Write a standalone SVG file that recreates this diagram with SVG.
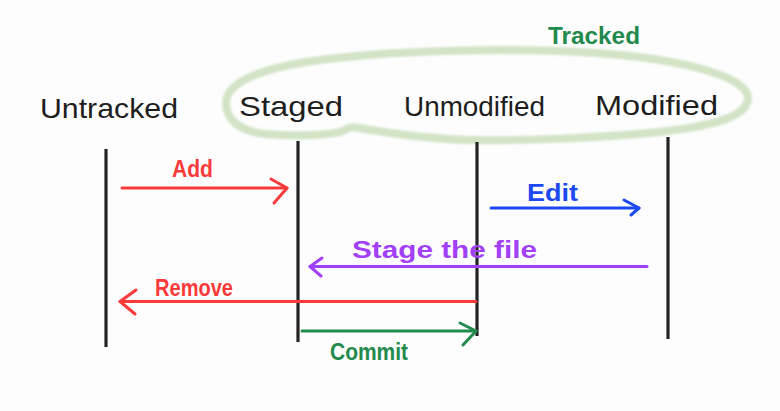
<svg xmlns="http://www.w3.org/2000/svg" width="780" height="411" viewBox="0 0 780 411">
  <defs>
    <filter id="soft" x="-5%" y="-20%" width="110%" height="140%">
      <feGaussianBlur stdDeviation="1.1"/>
    </filter>
    <style>
      .bg { fill: #fdfdfd; }
      .life { stroke: #242424; stroke-width: 3.2; fill: none; stroke-linecap: butt; }
      .lbl { font-family: "Liberation Sans", "DejaVu Sans", sans-serif; font-size: 28px; fill: #1e1e1e; }
      .alb { font-family: "Liberation Sans", "DejaVu Sans", sans-serif; font-size: 23px; font-weight: bold; }
      .arr { fill: none; stroke-width: 3; stroke-linecap: round; stroke-linejoin: round; }
      .red { stroke: #fa3a3a; }
      .blue { stroke: #1c48f2; }
      .purple { stroke: #a140f7; }
      .green { stroke: #218a4c; }
      .tred { fill: #fa3a3a; }
      .tblue { fill: #1c48f2; }
      .tpurple { fill: #a140f7; }
      .tgreen { fill: #218a4c; }
    </style>
  </defs>
  <rect class="bg" x="0" y="0" width="780" height="411"/>

  <g id="tracked-group">
    <path d="M 226,103 C 226,86 250,72 300,63 C 380,50 520,46 620,55 C 700,63 748,80 748,98 C 748,115 720,125 660,132 C 600,138 520,141 470,140 C 430,139 395,134 365,129 C 355,127 350,126 345,130 C 335,135 300,137 265,134 C 240,131 226,120 226,103 Z" fill="none" stroke="#d2e3c6" stroke-width="8" filter="url(#soft)"/>
    <text class="alb tgreen" x="548" y="44" font-size="20" textLength="92" lengthAdjust="spacingAndGlyphs">Tracked</text>
  </g>

  <g id="untracked">
    <text class="lbl" x="40" y="118" textLength="138" lengthAdjust="spacingAndGlyphs">Untracked</text>
    <line class="life" x1="106" y1="149" x2="106" y2="347"/>
  </g>
  <g id="staged">
    <text class="lbl" x="239" y="116" textLength="104" lengthAdjust="spacingAndGlyphs">Staged</text>
    <line class="life" x1="298" y1="141" x2="298" y2="342"/>
  </g>
  <g id="unmodified">
    <text class="lbl" x="404" y="116" textLength="141" lengthAdjust="spacingAndGlyphs">Unmodified</text>
    <line class="life" x1="477" y1="142" x2="477" y2="336"/>
  </g>
  <g id="modified">
    <text class="lbl" x="595" y="115" textLength="123" lengthAdjust="spacingAndGlyphs">Modified</text>
    <line class="life" x1="668" y1="137" x2="668" y2="339"/>
  </g>

  <g id="connectors">
    <g id="add">
      <line class="arr red" x1="122" y1="188" x2="287" y2="188"/>
      <polyline class="arr red" points="271,179 287,188 274,203"/>
      <text class="alb tred" x="172" y="177" textLength="41" lengthAdjust="spacingAndGlyphs">Add</text>
    </g>
    <g id="edit">
      <line class="arr blue" x1="491" y1="208" x2="639" y2="208"/>
      <polyline class="arr blue" points="624,200 639,208 631,215"/>
      <text class="alb tblue" x="527" y="201" textLength="51" lengthAdjust="spacingAndGlyphs">Edit</text>
    </g>
    <g id="stage">
      <line class="arr purple" x1="647" y1="266.5" x2="310" y2="266.5"/>
      <polyline class="arr purple" points="322,258 310,266.5 321,276"/>
      <text class="alb tpurple" x="352" y="258" textLength="185" lengthAdjust="spacingAndGlyphs">Stage the file</text>
    </g>
    <g id="remove">
      <line class="arr red" x1="476" y1="301.5" x2="120" y2="301.5"/>
      <polyline class="arr red" points="136,290 120,301.5 135,314"/>
      <text class="alb tred" x="155" y="296" textLength="78" lengthAdjust="spacingAndGlyphs">Remove</text>
    </g>
    <g id="commit">
      <line class="arr green" x1="302" y1="331" x2="476" y2="331"/>
      <polyline class="arr green" points="460,323 476,331 463,345"/>
      <text class="alb tgreen" x="330" y="360" textLength="78" lengthAdjust="spacingAndGlyphs">Commit</text>
    </g>
  </g>
</svg>
